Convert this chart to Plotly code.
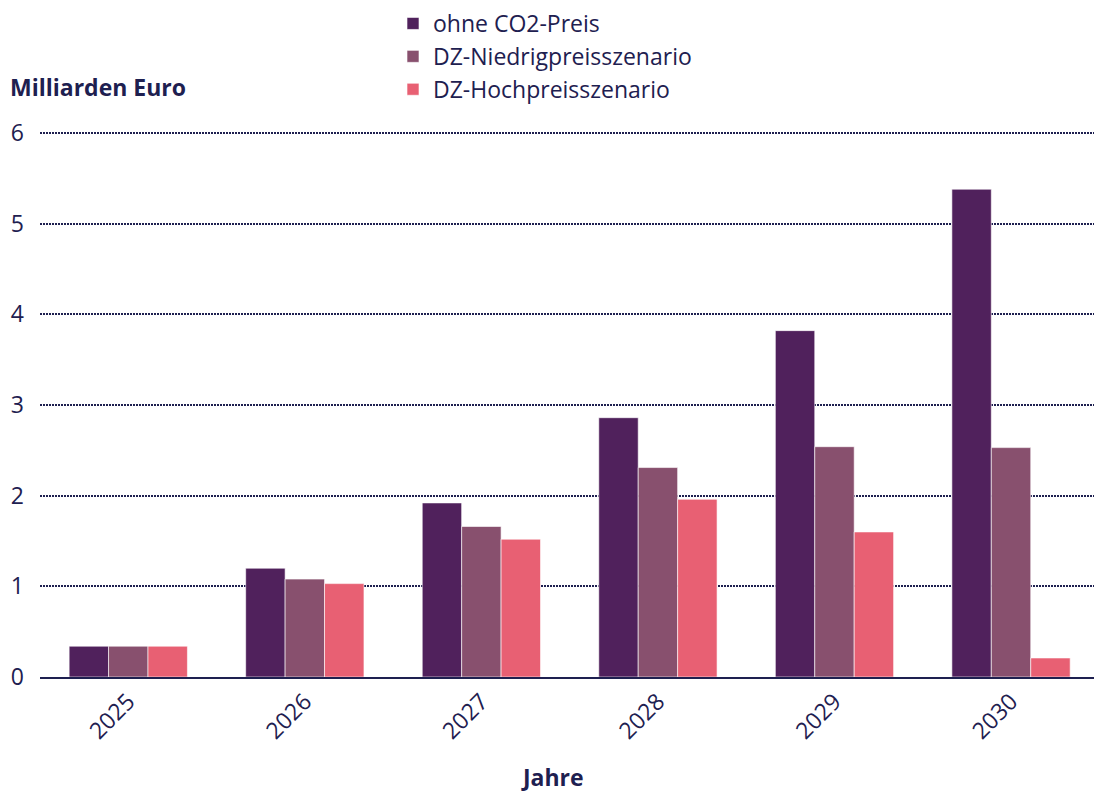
import plotly.graph_objects as go

# Jahre und Szenarien
years = ["2025", "2026", "2027", "2028", "2029", "2030"]
ohne_co2 = [0.34, 1.20, 1.92, 2.86, 3.82, 5.38]
dz_niedrig = [0.34, 1.08, 1.66, 2.31, 2.54, 2.53]
dz_hoch = [0.34, 1.03, 1.52, 1.96, 1.60, 0.21]

series_names = ["ohne CO2-Preis", "DZ-Niedrigpreisszenario", "DZ-Hochpreisszenario"]
series_colors = ["#50215c", "#88506e", "#e86073"]

INK = "#1e2050"
FONT = "Open Sans"
FS = 23

W, H = 1094, 793
M_L, M_R, M_T, M_B = 40, 0, 128, 116
plot_w = W - M_L - M_R
plot_h = H - M_T - M_B

fig = go.Figure()
for name, vals, col in zip(series_names, [ohne_co2, dz_niedrig, dz_hoch], series_colors):
    fig.add_trace(go.Bar(
        x=years, y=vals, name=name,
        marker=dict(color=col, line=dict(color="rgba(255,255,255,0.6)", width=1)),
        hoverinfo="x+y+name",
    ))

def px_x(px):
    return (px - M_L) / plot_w

def px_y(py):
    return (H - M_B - py) / plot_h

fig.update_layout(
    width=W, height=H,
    margin=dict(l=M_L, r=M_R, t=M_T, b=M_B, pad=0),
    paper_bgcolor="white", plot_bgcolor="white",
    font=dict(family=FONT, size=FS, color=INK),
    barmode="group", bargap=0.33, bargroupgap=0,
    legend=dict(
        x=px_x(393), y=px_y(2), xanchor="left", yanchor="top",
        font=dict(family=FONT, size=FS, color=INK),
        bgcolor="rgba(0,0,0,0)", traceorder="normal",
    ),
    xaxis=dict(
        type="category", range=[-0.5, 5.47],
        tickangle=-45, showgrid=False, ticks="",
        showline=True, linecolor=INK, linewidth=2,
        tickfont=dict(family=FONT, size=FS, color=INK),
    ),
    yaxis=dict(
        range=[0, 6.055], tickvals=[0, 1, 2, 3, 4, 5, 6],
        showgrid=True, gridcolor=INK, gridwidth=1.5, griddash="2px,1px",
        zeroline=False, showline=False, ticks="",
        ticklabelstandoff=15,
        tickfont=dict(family=FONT, size=FS, color=INK),
    ),
    annotations=[
        dict(text="<b>Milliarden Euro</b>", xref="paper", yref="paper",
             x=px_x(8), y=px_y(87), xanchor="left", yanchor="middle",
             showarrow=False, font=dict(family=FONT, size=FS, color=INK)),
        dict(text="<b>Jahre</b>", xref="paper", yref="paper",
             x=px_x(552), y=px_y(777), xanchor="center", yanchor="middle",
             showarrow=False, font=dict(family=FONT, size=FS, color=INK)),
    ],
)

fig.write_html("out.html")
